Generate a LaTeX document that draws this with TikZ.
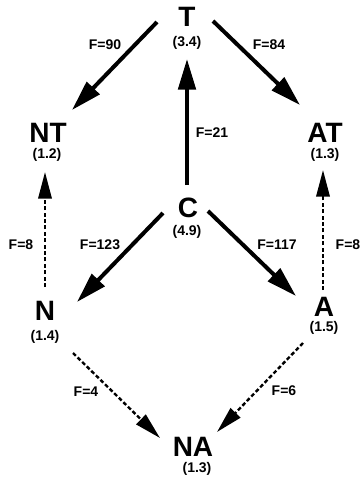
\documentclass[tikz,border=0pt]{standalone}
\usepackage{fontspec}
\setmainfont{Liberation Sans}
\usetikzlibrary{arrows.meta}
\tikzset{
	state/.style={font=\bfseries\fontsize{21}{21}\selectfont, inner sep=0pt},
	val/.style={font=\bfseries\fontsize{10.5}{10.5}\selectfont, inner sep=0pt},
	flux/.style={font=\bfseries\fontsize{10.5}{10.5}\selectfont, inner sep=0pt},
	strong/.style={line width=3pt, -{Triangle[length=23pt,width=13pt]}},
	weak/.style={line width=1.8pt, dash pattern=on 3pt off 1.8pt, -{Triangle[length=20pt,width=10pt]}},
}
\begin{document}
\begin{tikzpicture}[x=0.75pt,y=-0.75pt]
	\useasboundingbox (0,0) rectangle (362,480);
	% states
	\node[state] (T) at (187,17) {T};
	\node[val] (Tv) at (187,43) {(3.4)};
	\node[state] (NT) at (48,133) {NT};
	\node[val] (NTv) at (47,155) {(1.2)};
	\node[state] (AT) at (325,133) {AT};
	\node[val] (ATv) at (325,155) {(1.3)};
	\node[state] (C) at (188,208) {C};
	\node[val] (Cv) at (187,232) {(4.9)};
	\node[state] (N) at (45,311) {N};
	\node[val] (Nv) at (45,337) {(1.4)};
	\node[state] (A) at (324,307) {A};
	\node[val] (Av) at (324,328) {(1.5)};
	\node[state] (NA) at (193,447) {NA};
	\node[val] (NAv) at (197,469) {(1.3)};
	% strong fluxes
	\draw[strong] ([shift={(-30,5)}]T.center) -- ([shift={(24,-23)}]NT.center);
	\draw[strong] ([shift={(26,4)}]T.center) -- ([shift={(-25,-28)}]AT.center);
	\draw[strong] ([shift={(-1,-23)}]C.center) -- ([shift={(0,16)}]Tv.center);
	\draw[strong] ([shift={(-25,5)}]C.center) -- ([shift={(32,-9)}]N.center);
	\draw[strong] ([shift={(20,3)}]C.center) -- ([shift={(-28,-11)}]A.center);
	% weak fluxes
	\draw[weak] ([shift={(0,-24)}]N.center) -- ([shift={(-2,17)}]NTv.center);
	\draw[weak] ([shift={(-1,-17)}]A.center) -- ([shift={(-2,15)}]ATv.center);
	\draw[weak] ([shift={(28,16)}]Nv.center) -- ([shift={(-33,-9)}]NA.center);
	\draw[weak] ([shift={(-21,15)}]Av.center) -- ([shift={(24,-15)}]NA.center);
	% labels
	\node[flux] (f90) at (105,45) {F=90};
	\node[flux] (f84) at (269,45) {F=84};
	\node[flux] (f21) at (212,133) {F=21};
	\node[flux] (f123) at (100,245) {F=123};
	\node[flux] (f117) at (277,245) {F=117};
	\node[flux] (f8l) at (21,245) {F=8};
	\node[flux] (f8r) at (348,245) {F=8};
	\node[flux] (f4) at (86,392) {F=4};
	\node[flux] (f6) at (284,391) {F=6};
\end{tikzpicture}
\end{document}
